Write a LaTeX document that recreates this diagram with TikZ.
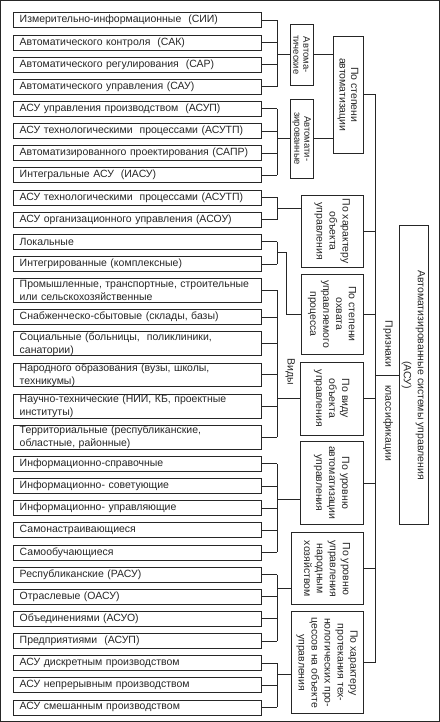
\documentclass[tikz,border=0pt]{standalone}
\usepackage{fontspec}
\setmainfont{Liberation Sans}
\usetikzlibrary{calc}
\begin{document}
\begin{tikzpicture}[x=1pt,y=-1pt,
  font=\fontsize{10.5}{13}\selectfont,
  every path/.style={line width=0.75pt, draw=black!85},
  lbox/.style={draw, anchor=north west, minimum width=248pt, minimum height=15pt,
    inner xsep=6pt, inner ysep=0pt, text width=236pt, align=left, text=black!85},
  dbox/.style={lbox, minimum height=24pt},
  gbox/.style={draw, inner sep=0pt},
  rtext/.style={rotate=-90, align=center, inner sep=0pt, text=black!85},
  tight/.style={font=\fontsize{10.5}{11.5}\selectfont},
  tighter/.style={font=\fontsize{9.5}{10}\selectfont}]
\useasboundingbox (0,0) rectangle (439,722);

% left boxes
\node[lbox] (b1) at (13,12.0) {Измерительно-информационные\ \ (СИИ)};
\node[lbox] (b2) at (13,34.2) {Автоматического контроля\ \ (САК)};
\node[lbox] (b3) at (13,56.3) {Автоматического регулирования\ \ (САР)};
\node[lbox] (b4) at (13,78.5) {Автоматического управления (САУ)};
\node[lbox] (b5) at (13,100.7) {АСУ управления производством\ \ (АСУП)};
\node[lbox] (b6) at (13,122.9) {АСУ технологическими\ \ процессами (АСУТП)};
\node[lbox] (b7) at (13,145.0) {Автоматизированного проектирования (САПР)};
\node[lbox] (b8) at (13,167.2) {Интегральные АСУ\ \ (ИАСУ)};
\node[lbox] (b9) at (13,189.4) {АСУ технологическими\ \ процессами (АСУТП)};
\node[lbox] (b10) at (13,211.5) {АСУ организационного управления (АСОУ)};
\node[lbox] (b11) at (13,233.7) {Локальные};
\node[lbox] (b12) at (13,255.9) {Интегрированные (комплексные)};
\node[dbox] (b13) at (13,278.0) {Промышленные, транспортные, строительные\\или сельскохозяйственные};
\node[lbox] (b14) at (13,309.2) {Снабженческо-сбытовые (склады, базы)};
\node[dbox] (b15) at (13,331.4) {Социальные (больницы,\ \ поликлиники,\\санатории)};
\node[dbox] (b16) at (13,362.5) {Народного образования (вузы, школы,\\техникумы)};
\node[dbox] (b17) at (13,393.7) {Научно-технические (НИИ, КБ, проектные\\институты)};
\node[dbox] (b18) at (13,424.9) {Территориальные (республиканские,\\областные, районные)};
\node[lbox] (b19) at (13,456.0) {Информационно-справочные};
\node[lbox] (b20) at (13,478.2) {Информационно- советующие};
\node[lbox] (b21) at (13,500.4) {Информационно- управляющие};
\node[lbox] (b22) at (13,522.6) {Самонастраивающиеся};
\node[lbox] (b23) at (13,544.7) {Самообучающиеся};
\node[lbox] (b24) at (13,566.9) {Республиканские (РАСУ)};
\node[lbox] (b25) at (13,589.1) {Отраслевые (ОАСУ)};
\node[lbox] (b26) at (13,611.2) {Объединениями (АСУО)};
\node[lbox] (b27) at (13,633.4) {Предприятиями\ \ (АСУП)};
\node[lbox] (b28) at (13,655.6) {АСУ дискретным производством};
\node[lbox] (b29) at (13,677.7) {АСУ непрерывным производством};
\node[lbox] (b30) at (13,699.9) {АСУ смешанным производством};

% group boxes
\node[gbox, minimum width=23pt, minimum height=61pt] (gA) at (301.5,54.5) {};
\node[rtext, tighter] at (gA.center) {Автома-\\тические};
\node[gbox, minimum width=23pt, minimum height=79pt] (gB) at (301.5,138.5) {};
\node[rtext, tighter] at (gB.center) {Автомати-\\зированные};
\node[gbox, minimum width=30pt, minimum height=117pt] (gC) at (348,94.5) {};
\node[rtext, tight] at (gC.center) {По степени\\автоматизации};
\node[gbox, minimum width=62pt, minimum height=72pt] (gD) at (332,231) {};
\node[rtext] at (gD.center) {По характеру\\объекта\\управления};
\node[gbox, minimum width=62pt, minimum height=80pt] (gE) at (332,314) {};
\node[rtext] at (gE.center) {По степени\\охвата\\управляемого\\процесса};
\node[gbox, minimum width=63pt, minimum height=73pt] (gF) at (331.5,398.5) {};
\node[rtext] at (gF.center) {По виду\\объекта\\управления};
\node[gbox, minimum width=63pt, minimum height=84pt] (gG) at (331.5,483) {};
\node[rtext] at (gG.center) {По уровню\\автоматизации\\управления};
\node[gbox, minimum width=72pt, minimum height=72pt] (gH) at (327,569) {};
\node[rtext] at (gH.center) {По уровню\\управления\\народным\\хозяйством};
\node[gbox, minimum width=72pt, minimum height=102pt] (gI) at (327,663) {};
\node[rtext] at (gI.center) {По характеру\\протекания тех-\\нологических про-\\цессов на объекте\\управления};
\node[gbox, minimum width=29pt, minimum height=300pt] (M) at (413.5,375) {};
\node[rtext, font=\fontsize{10.5}{14}\selectfont] at (M.center) {Автоматизированные системы управления\\(АСУ)};

% labels
\node[rtext] (vidy) at (290,372) {Виды};
\node[rtext] (prizn) at (388,344) {Признаки};
\node[rtext] (klass) at (388,423) {классификации};

% bracket columns
\coordinate (bx) at (277,0);
\coordinate (bx2) at (286,0);
\coordinate (sp) at (375,0);

% stubs from left boxes
\foreach \i in {1,...,30} {\draw (b\i.east) -- (b\i.east -| bx);}

% group 1
\draw (b1.east -| bx) -- (b4.east -| bx);
\draw (bx |- gA.west) -- (gA.west);
% group 2
\draw (b5.east -| bx) -- (b8.east -| bx);
\draw (bx |- gB.west) -- (gB.west);
% to По степени автоматизации
\draw (gA.east) -- (gA.east -| gC.west);
\draw (gB.east) -- (gB.east -| gC.west);
% group 3
\draw (b9.east -| bx) -- (b10.east -| bx);
\coordinate (m3) at ($(b9.east -| bx)!0.5!(b10.east -| bx)$);
\draw (m3) -- (m3 -| gD.west);
% group 4
\draw (b11.east -| bx) -- (b12.east -| bx);
\coordinate (m4) at ($(b11.east -| bx)!0.5!(b12.east -| bx)$);
\draw (m4) -- (m4 -| bx2) -- (bx2 |- gE.west) -- (gE.west);
% group 5
\draw (b13.east -| bx) -- (b18.east -| bx);
\draw (bx |- gF.west) -- (gF.west);
% group 6
\draw (b19.east -| bx) -- (b23.east -| bx);
\draw (bx |- 0,500) -- (gG.west |- 0,500);
% group 7
\draw (b24.east -| bx) -- (b27.east -| bx);
\draw (bx |- 0,589) -- (gH.west |- 0,589);
% group 8
\draw (b28.east -| bx) -- (b30.east -| bx);
\draw (bx |- 0,675) -- (gI.west |- 0,675);

% spine
\draw (gC.east) -- (gC.east -| sp) -- (gI.east -| sp) -- (gI.east);
\foreach \g in {gD,gE,gF,gG,gH} {\draw (\g.east) -- (\g.east -| sp);}
\draw (sp |- M.west) -- (M.west);
\end{tikzpicture}
\end{document}
